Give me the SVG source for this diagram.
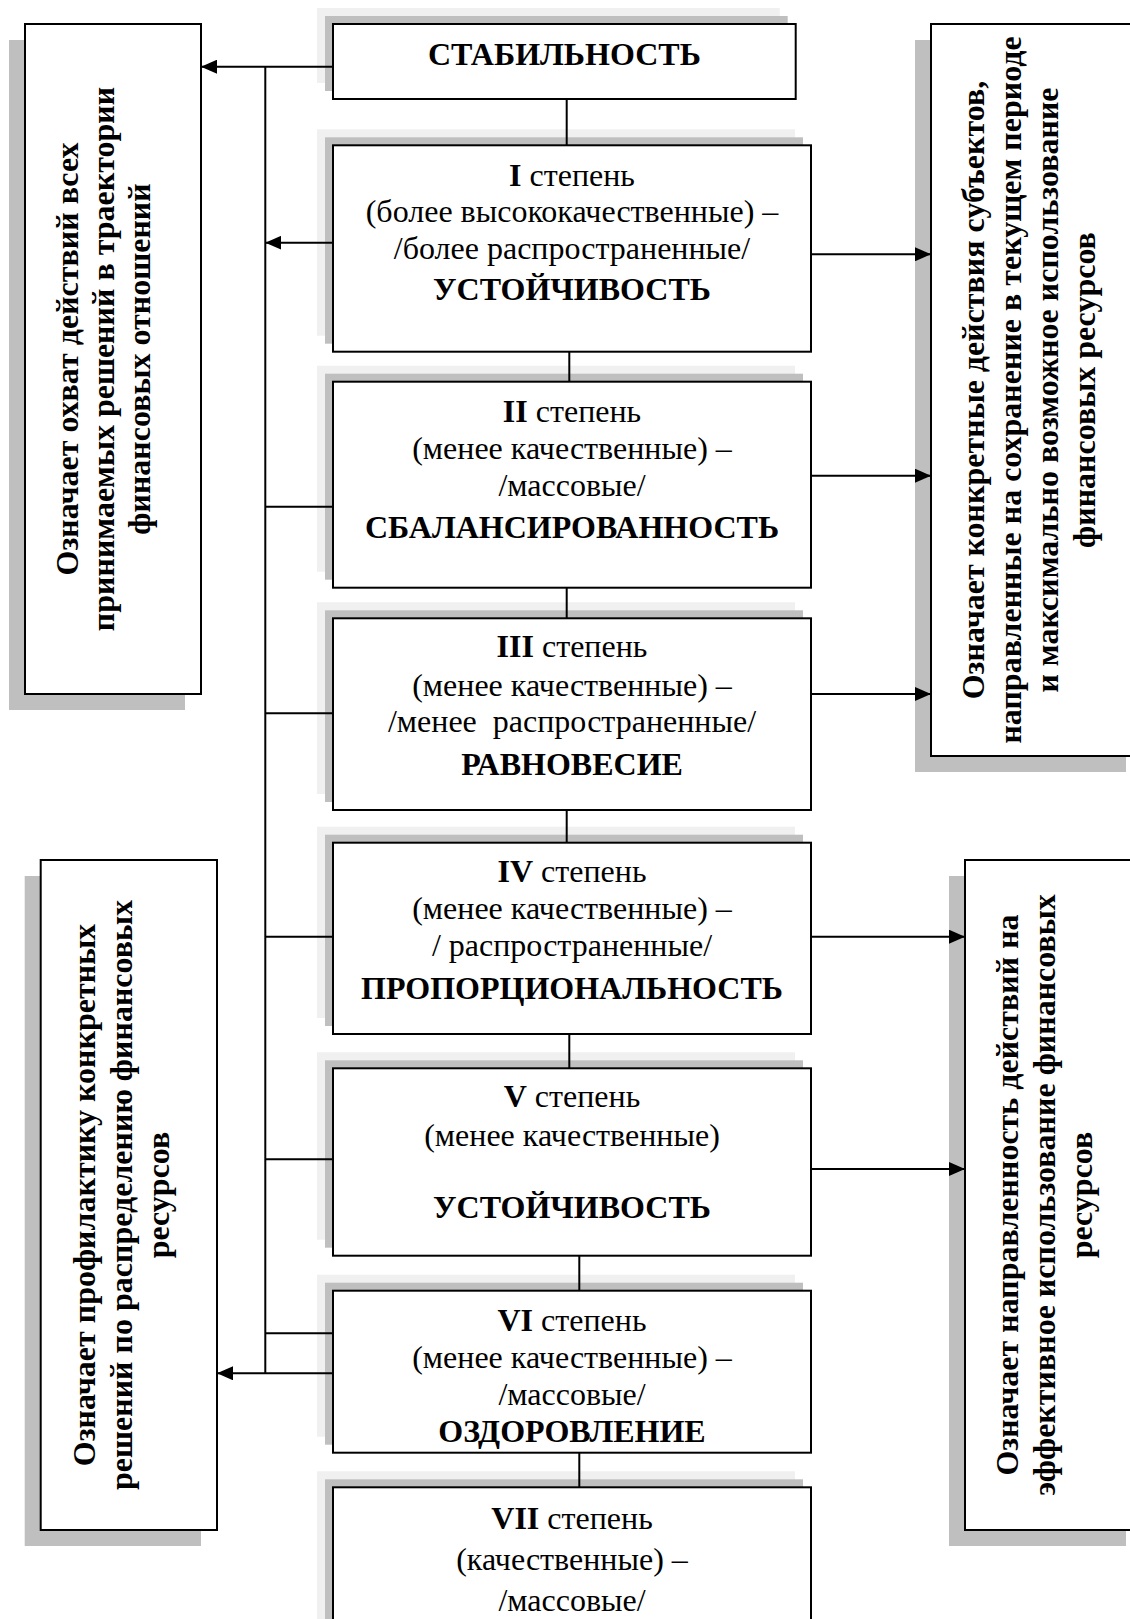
<svg xmlns="http://www.w3.org/2000/svg" width="1130" height="1619" viewBox="0 0 1130 1619">
<style>
.t{font-family:"Liberation Serif","Times New Roman",serif;font-size:32px;text-anchor:middle;fill:#000}
.b{font-weight:bold}
.box{fill:#fff;stroke:#000;stroke-width:2}
.sh1{fill:#f0f0f0}
.sh2{fill:#bfbfbf}
.ln{fill:none;stroke:#000;stroke-width:2}
</style>
<defs>
<marker id="ah" viewBox="0 0 16 14" refX="16" refY="7" markerWidth="16" markerHeight="14" orient="auto" markerUnits="userSpaceOnUse">
<path d="M0,0 L16,7 L0,14 Z" fill="#000"/>
</marker>
</defs>
<rect width="1130" height="1619" fill="#fff"/>

<g id="side-left-1">
<rect class="sh2" x="9" y="40" width="176" height="670"/>
<rect class="box" x="25" y="24" width="176" height="670"/>
<text class="t b" transform="translate(77.5,359) rotate(-90)">Означает охват действий всех</text>
<text class="t b" transform="translate(113.5,359) rotate(-90)">принимаемых решений в траектории</text>
<text class="t b" transform="translate(149.5,359) rotate(-90)">финансовых отношений</text>
</g>

<g id="side-right-1">
<rect class="sh2" x="915" y="40" width="211" height="732"/>
<rect class="box" x="931" y="24" width="211" height="732"/>
<text class="t b" transform="translate(984,390) rotate(-90)">Означает конкретные действия субъектов,</text>
<text class="t b" transform="translate(1021,390) rotate(-90)">направленные на сохранение в текущем периоде</text>
<text class="t b" transform="translate(1058,390) rotate(-90)">и максимально возможное использование</text>
<text class="t b" transform="translate(1095,390) rotate(-90)">финансовых ресурсов</text>
</g>

<g id="side-left-2">
<rect class="sh2" x="24.7" y="876" width="176.3" height="670"/>
<rect class="box" x="40.7" y="860" width="176.3" height="670"/>
<text class="t b" transform="translate(95,1195) rotate(-90)">Означает профилактику конкретных</text>
<text class="t b" transform="translate(132,1195) rotate(-90)">решений по распределению финансовых</text>
<text class="t b" transform="translate(169,1195) rotate(-90)">ресурсов</text>
</g>

<g id="side-right-2">
<rect class="sh2" x="949" y="876" width="177" height="670"/>
<rect class="box" x="965" y="860" width="177" height="670"/>
<text class="t b" transform="translate(1018,1195) rotate(-90)">Означает направленность действий на</text>
<text class="t b" transform="translate(1055,1195) rotate(-90)">эффективное использование финансовых</text>
<text class="t b" transform="translate(1092,1195) rotate(-90)">ресурсов</text>
</g>

<g id="stability">
<rect class="sh1" x="317" y="8" width="462.7" height="75"/>
<rect class="sh2" x="325" y="16" width="462.7" height="75"/>
<rect class="box" x="333" y="24" width="462.7" height="75"/>
<text class="t b" x="564.4" y="64.5">СТАБИЛЬНОСТЬ</text>
</g>

<g id="degree-1">
<rect class="sh1" x="317" y="129.3" width="478" height="206.4"/>
<rect class="sh2" x="325" y="137.3" width="478" height="206.4"/>
<rect class="box" x="333" y="145.3" width="478" height="206.4"/>
<text class="t" x="572" y="186"><tspan class="b">I</tspan> степень</text>
<text class="t" x="572" y="222">(более высококачественные) –</text>
<text class="t" x="572" y="259">/более распространенные/</text>
<text class="t b" x="572" y="300">УСТОЙЧИВОСТЬ</text>
</g>

<g id="degree-2">
<rect class="sh1" x="317" y="365.7" width="478" height="206"/>
<rect class="sh2" x="325" y="373.7" width="478" height="206"/>
<rect class="box" x="333" y="381.7" width="478" height="206"/>
<text class="t" x="572" y="422"><tspan class="b">II</tspan> степень</text>
<text class="t" x="572" y="459">(менее качественные) –</text>
<text class="t" x="572" y="496">/массовые/</text>
<text class="t b" x="572" y="538">СБАЛАНСИРОВАННОСТЬ</text>
</g>

<g id="degree-3">
<rect class="sh1" x="317" y="602.3" width="478" height="191.7"/>
<rect class="sh2" x="325" y="610.3" width="478" height="191.7"/>
<rect class="box" x="333" y="618.3" width="478" height="191.7"/>
<text class="t" x="572" y="657"><tspan class="b">III</tspan> степень</text>
<text class="t" x="572" y="696">(менее качественные) –</text>
<text class="t" x="572" y="732" xml:space="preserve">/менее  распространенные/</text>
<text class="t b" x="572" y="775">РАВНОВЕСИЕ</text>
</g>

<g id="degree-4">
<rect class="sh1" x="317" y="826.7" width="478" height="191.3"/>
<rect class="sh2" x="325" y="834.7" width="478" height="191.3"/>
<rect class="box" x="333" y="842.7" width="478" height="191.3"/>
<text class="t" x="572" y="882"><tspan class="b">IV</tspan> степень</text>
<text class="t" x="572" y="919">(менее качественные) –</text>
<text class="t" x="572" y="956">/ распространенные/</text>
<text class="t b" x="572" y="999">ПРОПОРЦИОНАЛЬНОСТЬ</text>
</g>

<g id="degree-5">
<rect class="sh1" x="317" y="1052.3" width="478" height="187.4"/>
<rect class="sh2" x="325" y="1060.3" width="478" height="187.4"/>
<rect class="box" x="333" y="1068.3" width="478" height="187.4"/>
<text class="t" x="572" y="1107"><tspan class="b">V</tspan> степень</text>
<text class="t" x="572" y="1146">(менее качественные)</text>
<text class="t b" x="572" y="1218">УСТОЙЧИВОСТЬ</text>
</g>

<g id="degree-6">
<rect class="sh1" x="317" y="1274.7" width="478" height="162"/>
<rect class="sh2" x="325" y="1282.7" width="478" height="162"/>
<rect class="box" x="333" y="1290.7" width="478" height="162"/>
<text class="t" x="572" y="1331"><tspan class="b">VI</tspan> степень</text>
<text class="t" x="572" y="1368">(менее качественные) –</text>
<text class="t" x="572" y="1405">/массовые/</text>
<text class="t b" x="572" y="1442">ОЗДОРОВЛЕНИЕ</text>
</g>

<g id="degree-7">
<rect class="sh1" x="317" y="1471.3" width="478" height="200"/>
<rect class="sh2" x="325" y="1479.3" width="478" height="200"/>
<rect class="box" x="333" y="1487.3" width="478" height="200"/>
<text class="t" x="572" y="1529"><tspan class="b">VII</tspan> степень</text>
<text class="t" x="572" y="1570">(качественные) –</text>
<text class="t" x="572" y="1611">/массовые/</text>
</g>

<g id="connectors">
<path class="ln" d="M265.3,66.7 V1373.3"/>
<path class="ln" d="M333,66.7 H201" marker-end="url(#ah)"/>
<path class="ln" d="M333,242.7 H265.3" marker-end="url(#ah)"/>
<path class="ln" d="M265.3,506.7 H333"/>
<path class="ln" d="M265.3,713.3 H333"/>
<path class="ln" d="M265.3,936.7 H333"/>
<path class="ln" d="M265.3,1159.3 H333"/>
<path class="ln" d="M265.3,1333.3 H333"/>
<path class="ln" d="M333,1373.3 H217" marker-end="url(#ah)"/>
<path class="ln" d="M811,254.3 H931" marker-end="url(#ah)"/>
<path class="ln" d="M811,475.7 H931" marker-end="url(#ah)"/>
<path class="ln" d="M811,694 H931" marker-end="url(#ah)"/>
<path class="ln" d="M811,936.7 H965" marker-end="url(#ah)"/>
<path class="ln" d="M811,1169 H965" marker-end="url(#ah)"/>
<path class="ln" d="M566.7,99 V145.3"/>
<path class="ln" d="M569.3,351.7 V381.7"/>
<path class="ln" d="M566.7,587.7 V618.3"/>
<path class="ln" d="M566.7,810 V842.7"/>
<path class="ln" d="M569.3,1034 V1068.3"/>
<path class="ln" d="M579.3,1255.7 V1290.7"/>
<path class="ln" d="M579.3,1452.7 V1487.3"/>
</g>
</svg>
